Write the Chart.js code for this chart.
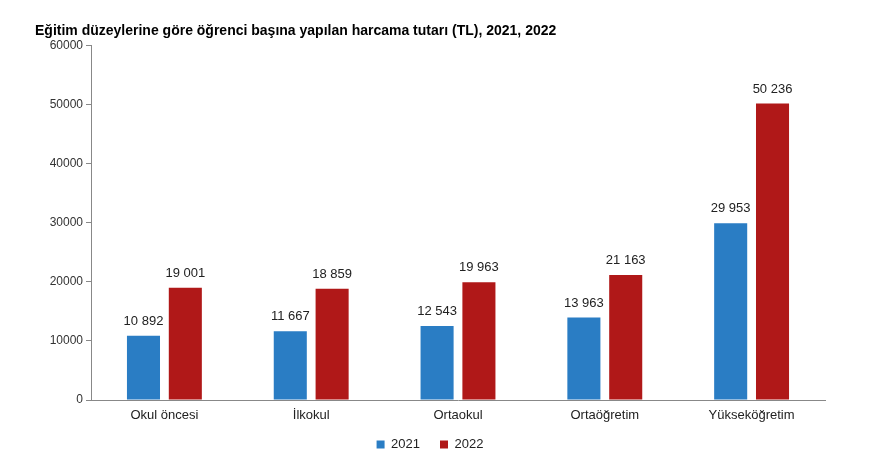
<!DOCTYPE html>
<html>
<head>
<meta charset="utf-8">
<script src="https://cdn.jsdelivr.net/npm/chart.js@4"></script>
<style>
  html, body { margin: 0; padding: 0; background: #fff; }
  #wrap { width: 880px; height: 456px; }
</style>
</head>
<body>
<div id="wrap"><canvas id="chart"></canvas></div>
<script>
const categories = ['Okul öncesi', 'İlkokul', 'Ortaokul', 'Ortaöğretim', 'Yükseköğretim'];
const values2021 = [10892, 11667, 12543, 13963, 29953];
const values2022 = [19001, 18859, 19963, 21163, 50236];
const yTicks = [0, 10000, 20000, 30000, 40000, 50000, 60000];

// numbers shown with a space as thousands separator
function fmt(v) {
    return String(v).replace(/\B(?=(\d{3})+(?!\d))/g, ' ');
}

const barLabels = {
    id: 'barLabels',
    afterDatasetsDraw(chart) {
        const ctx = chart.ctx;
        ctx.save();
        ctx.font = '13px "Liberation Sans", Arial, sans-serif';
        ctx.fillStyle = '#222';
        ctx.textAlign = 'center';
        ctx.textBaseline = 'bottom';
        chart.data.datasets.forEach((ds, i) => {
            chart.getDatasetMeta(i).data.forEach((bar, j) => {
                ctx.fillText(fmt(ds.data[j]), bar.x, bar.y - 8);
            });
        });
        ctx.restore();
    }
};

// short legend box; items start higher than the padding would put them
const legendFit = {
    id: 'legendFit',
    beforeInit(chart) {
        const legend = chart.legend;
        const fit = legend.fit;
        legend.fit = function () {
            fit.call(this);
            this.height = 24;
        };
        const draw = legend.draw;
        legend.draw = function () {
            const top = this.top;
            this.top = top - 14;
            draw.call(this);
            this.top = top;
        };
    }
};

new Chart(document.getElementById('chart'), {
    type: 'bar',
    data: {
        labels: categories,
        datasets: [{
            label: '2021',
            data: values2021,
            backgroundColor: '#2a7dc4'
        }, {
            label: '2022',
            data: values2022,
            backgroundColor: '#b01818'
        }]
    },
    options: {
        responsive: true,
        maintainAspectRatio: false,
        animation: false,
        categoryPercentage: 0.57,
        barPercentage: 0.79,
        layout: { padding: { left: 35, right: 55, top: 23, bottom: 0 } },
        plugins: {
            title: {
                display: true,
                text: 'Eğitim düzeylerine göre öğrenci başına yapılan harcama tutarı (TL), 2021, 2022',
                align: 'start',
                color: '#000',
                font: { family: '"Liberation Sans", Arial, sans-serif', size: 14, weight: 'bold' },
                padding: { top: 0, bottom: 6 }
            },
            legend: {
                position: 'bottom',
                labels: {
                    boxWidth: 8,
                    boxHeight: 8,
                    padding: 20,
                    color: '#222',
                    font: { family: '"Liberation Sans", Arial, sans-serif', size: 13 }
                }
            },
            tooltip: { enabled: false }
        },
        scales: {
            x: {
                grid: { drawOnChartArea: false, drawTicks: false },
                border: { color: '#888' },
                afterFit(axis) { axis.height = 32; },
                ticks: {
                    color: '#222',
                    padding: 8,
                    font: { family: '"Liberation Sans", Arial, sans-serif', size: 13 }
                }
            },
            y: {
                min: 0,
                max: 60000,
                afterBuildTicks(axis) {
                    axis.ticks = yTicks.map(v => ({ value: v }));
                },
                afterFit(axis) { axis.width = 56; },
                grid: { drawOnChartArea: false, drawTicks: true, tickLength: 5, color: '#888' },
                border: { color: '#888' },
                ticks: {
                    color: '#333',
                    padding: 3,
                    callback: v => String(v),
                    font: { family: '"Liberation Sans", Arial, sans-serif', size: 12 }
                }
            }
        }
    },
    plugins: [barLabels, legendFit]
});
</script>
</body>
</html>
